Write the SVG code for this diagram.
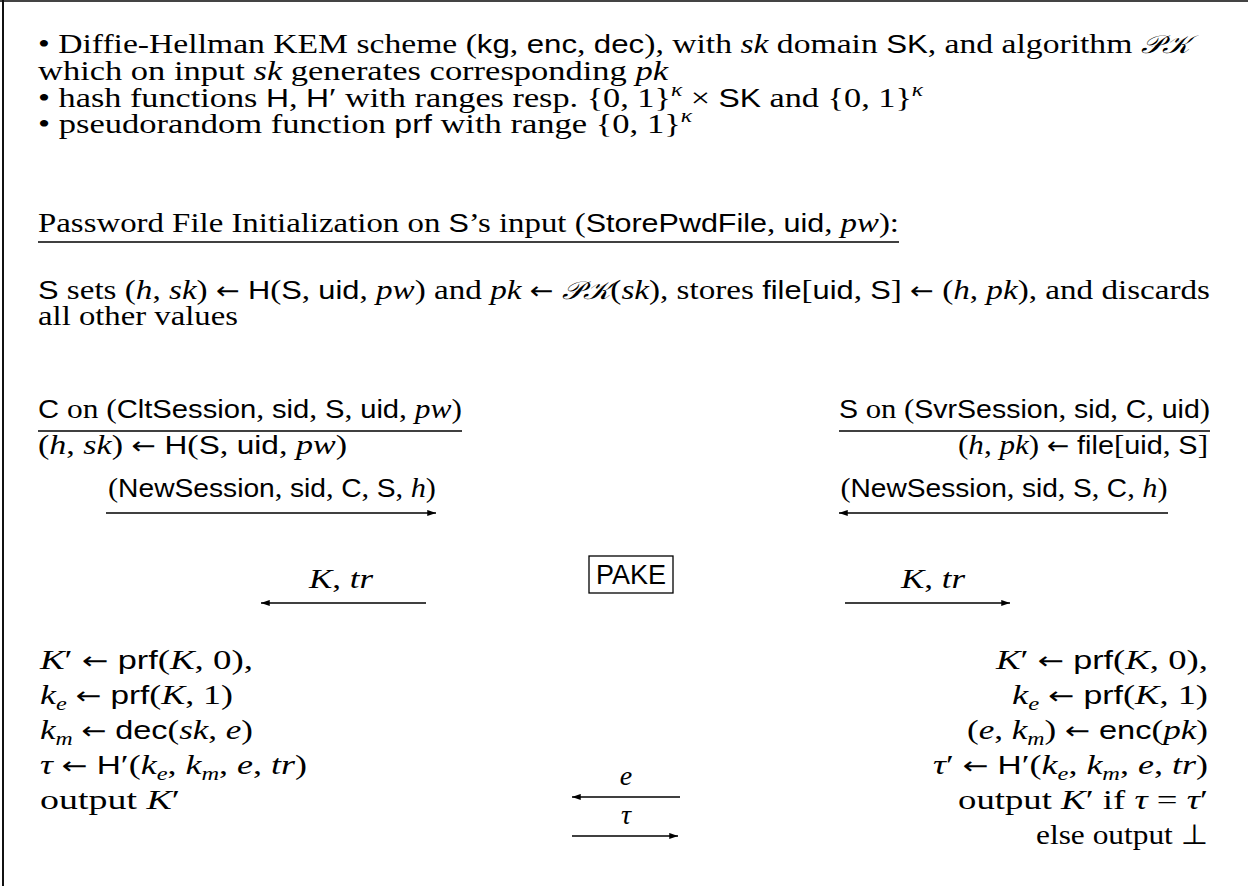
<svg xmlns="http://www.w3.org/2000/svg" width="1248" height="886" viewBox="0 0 1248 886">
<style>
.r{font-family:"Liberation Serif","DejaVu Serif",serif;font-size:28px;fill:#000}
.s{font-family:"Liberation Sans","DejaVu Sans",sans-serif;font-size:26px}
.a{font-family:"DejaVu Sans","Liberation Serif",sans-serif;font-size:24px}
.i{font-style:italic}
.c{font-family:"DejaVu Serif","DejaVu Sans","Noto Sans",serif;font-style:italic;font-size:25px}
.sub{font-size:19px}
.sup{font-size:19px}
.ln{stroke:#000;stroke-width:1.3;fill:none}
.ar{stroke:#000;stroke-width:1.3;fill:none;marker-end:url(#ah)}
.end{text-anchor:end}
.mid{text-anchor:middle}
</style>
<defs>
<marker id="ah" viewBox="0 0 10 8" refX="10" refY="4" markerWidth="10" markerHeight="7" markerUnits="userSpaceOnUse" orient="auto"><path d="M0,0.5 L10,4 L0,7.5 z" fill="#000"/></marker>
</defs>
<rect width="1248" height="886" fill="#fff"/>
<g id="frame">
<line x1="0" y1="1" x2="1248" y2="1" stroke="#444" stroke-width="2"/>
<line x1="3" y1="0" x2="3" y2="886" stroke="#111" stroke-width="2"/>
</g>
<g id="assumptions">
<text class="r" x="38" y="53" textLength="1152" lengthAdjust="spacingAndGlyphs">• Diffie-Hellman KEM scheme (<tspan class="s">kg</tspan>, <tspan class="s">enc</tspan>, <tspan class="s">dec</tspan>), with <tspan class="i">sk</tspan> domain <tspan class="s">SK</tspan>, and algorithm <tspan class="c">𝒫𝒦</tspan></text>
<text class="r" x="38" y="80" textLength="630" lengthAdjust="spacingAndGlyphs">which on input <tspan class="i">sk</tspan> generates corresponding <tspan class="i">pk</tspan></text>
<text class="r" x="38" y="107" textLength="885" lengthAdjust="spacingAndGlyphs">• hash functions <tspan class="s">H</tspan>, <tspan class="s">H</tspan>′ with ranges resp. {0, 1}<tspan class="i sup" dy="-11">κ</tspan><tspan dy="11"> × </tspan><tspan class="s">SK</tspan> and {0, 1}<tspan class="i sup" dy="-11">κ</tspan></text>
<text class="r" x="38" y="133" textLength="654" lengthAdjust="spacingAndGlyphs">• pseudorandom function <tspan class="s">prf</tspan> with range {0, 1}<tspan class="i sup" dy="-11">κ</tspan></text>
</g>
<g id="pwfile-init">
<text class="r" x="38" y="232" textLength="861" lengthAdjust="spacingAndGlyphs">Password File Initialization on <tspan class="s">S</tspan>’s input (<tspan class="s">StorePwdFile</tspan>, <tspan class="s">uid</tspan>, <tspan class="i">pw</tspan>):</text>
<line class="ln" x1="38" y1="242" x2="899" y2="242"/>
<text class="r" x="38" y="299" textLength="1172" lengthAdjust="spacingAndGlyphs"><tspan class="s">S</tspan> sets (<tspan class="i">h</tspan>, <tspan class="i">sk</tspan>) <tspan class="a">←</tspan> <tspan class="s">H</tspan>(<tspan class="s">S</tspan>, <tspan class="s">uid</tspan>, <tspan class="i">pw</tspan>) and <tspan class="i">pk</tspan> <tspan class="a">←</tspan> <tspan class="c">𝒫𝒦</tspan>(<tspan class="i">sk</tspan>), stores <tspan class="s">file</tspan>[<tspan class="s">uid</tspan>, <tspan class="s">S</tspan>] <tspan class="a">←</tspan> (<tspan class="i">h</tspan>, <tspan class="i">pk</tspan>), and discards</text>
<text class="r" x="38" y="325" textLength="200" lengthAdjust="spacingAndGlyphs">all other values</text>
</g>
<g id="client-header">
<text class="r" x="38" y="418" textLength="424" lengthAdjust="spacingAndGlyphs"><tspan class="s">C</tspan> on (<tspan class="s">CltSession</tspan>, <tspan class="s">sid</tspan>, <tspan class="s">S</tspan>, <tspan class="s">uid</tspan>, <tspan class="i">pw</tspan>)</text>
<line class="ln" x1="38" y1="431" x2="462" y2="431"/>
<text class="r" x="38" y="454" textLength="309" lengthAdjust="spacingAndGlyphs">(<tspan class="i">h</tspan>, <tspan class="i">sk</tspan>) <tspan class="a">←</tspan> <tspan class="s">H</tspan>(<tspan class="s">S</tspan>, <tspan class="s">uid</tspan>, <tspan class="i">pw</tspan>)</text>
</g>
<g id="server-header">
<text class="r end" x="1210" y="418" textLength="371" lengthAdjust="spacingAndGlyphs"><tspan class="s">S</tspan> on (<tspan class="s">SvrSession</tspan>, <tspan class="s">sid</tspan>, <tspan class="s">C</tspan>, <tspan class="s">uid</tspan>)</text>
<line class="ln" x1="839" y1="431" x2="1210" y2="431"/>
<text class="r end" x="1208" y="454" textLength="250" lengthAdjust="spacingAndGlyphs">(<tspan class="i">h</tspan>, <tspan class="i">pk</tspan>) <tspan class="a">←</tspan> <tspan class="s">file</tspan>[<tspan class="s">uid</tspan>, <tspan class="s">S</tspan>]</text>
</g>
<g id="pake">
<rect x="589" y="556" width="84" height="37" fill="none" stroke="#000" stroke-width="1.3"/>
<text class="s mid" x="631" y="584" style="font-size:27px">PAKE</text>
</g>
<g id="client-compute">
<text class="r" x="40" y="669" textLength="213" lengthAdjust="spacingAndGlyphs"><tspan class="i">K</tspan>′ <tspan class="a">←</tspan> <tspan class="s">prf</tspan>(<tspan class="i">K</tspan>, 0),</text>
<text class="r" x="40" y="704" textLength="193" lengthAdjust="spacingAndGlyphs"><tspan class="i">k</tspan><tspan class="i sub" dy="6">e</tspan><tspan dy="-6"> </tspan><tspan class="a">←</tspan> <tspan class="s">prf</tspan>(<tspan class="i">K</tspan>, 1)</text>
<text class="r" x="40" y="739" textLength="213" lengthAdjust="spacingAndGlyphs"><tspan class="i">k</tspan><tspan class="i sub" dy="6">m</tspan><tspan dy="-6"> </tspan><tspan class="a">←</tspan> <tspan class="s">dec</tspan>(<tspan class="i">sk</tspan>, <tspan class="i">e</tspan>)</text>
<text class="r" x="40" y="774" textLength="267" lengthAdjust="spacingAndGlyphs"><tspan class="i">τ</tspan> <tspan class="a">←</tspan> <tspan class="s">H</tspan>′(<tspan class="i">k</tspan><tspan class="i sub" dy="6">e</tspan><tspan dy="-6">, </tspan><tspan class="i">k</tspan><tspan class="i sub" dy="6">m</tspan><tspan dy="-6">, </tspan><tspan class="i">e</tspan>, <tspan class="i">tr</tspan>)</text>
<text class="r" x="40" y="809" textLength="140" lengthAdjust="spacingAndGlyphs">output <tspan class="i">K</tspan>′</text>
</g>
<g id="server-compute">
<text class="r end" x="1208" y="669" textLength="212" lengthAdjust="spacingAndGlyphs"><tspan class="i">K</tspan>′ <tspan class="a">←</tspan> <tspan class="s">prf</tspan>(<tspan class="i">K</tspan>, 0),</text>
<text class="r end" x="1208" y="704" textLength="196" lengthAdjust="spacingAndGlyphs"><tspan class="i">k</tspan><tspan class="i sub" dy="6">e</tspan><tspan dy="-6"> </tspan><tspan class="a">←</tspan> <tspan class="s">prf</tspan>(<tspan class="i">K</tspan>, 1)</text>
<text class="r end" x="1208" y="739" textLength="241" lengthAdjust="spacingAndGlyphs">(<tspan class="i">e</tspan>, <tspan class="i">k</tspan><tspan class="i sub" dy="6">m</tspan><tspan dy="-6">) </tspan><tspan class="a">←</tspan> <tspan class="s">enc</tspan>(<tspan class="i">pk</tspan>)</text>
<text class="r end" x="1208" y="774" textLength="275" lengthAdjust="spacingAndGlyphs"><tspan class="i">τ</tspan>′ <tspan class="a">←</tspan> <tspan class="s">H</tspan>′(<tspan class="i">k</tspan><tspan class="i sub" dy="6">e</tspan><tspan dy="-6">, </tspan><tspan class="i">k</tspan><tspan class="i sub" dy="6">m</tspan><tspan dy="-6">, </tspan><tspan class="i">e</tspan>, <tspan class="i">tr</tspan>)</text>
<text class="r end" x="1208" y="809" textLength="250" lengthAdjust="spacingAndGlyphs">output <tspan class="i">K</tspan>′ if <tspan class="i">τ</tspan> = <tspan class="i">τ</tspan>′</text>
<text class="r end" x="1208" y="844" textLength="172" lengthAdjust="spacingAndGlyphs">else output <tspan class="a" style="font-size:28px">⊥</tspan></text>
</g>
<g id="connectors">
<text class="r mid" x="272" y="497" textLength="328" lengthAdjust="spacingAndGlyphs">(<tspan class="s">NewSession</tspan>, <tspan class="s">sid</tspan>, <tspan class="s">C</tspan>, <tspan class="s">S</tspan>, <tspan class="i">h</tspan>)</text>
<line class="ar" x1="106" y1="513" x2="436" y2="513"/>
<text class="r mid" x="1004" y="497" textLength="327" lengthAdjust="spacingAndGlyphs">(<tspan class="s">NewSession</tspan>, <tspan class="s">sid</tspan>, <tspan class="s">S</tspan>, <tspan class="s">C</tspan>, <tspan class="i">h</tspan>)</text>
<line class="ar" x1="1168" y1="513" x2="839" y2="513"/>
<text class="r mid" x="341" y="588" textLength="64" lengthAdjust="spacingAndGlyphs"><tspan class="i">K</tspan>, <tspan class="i">tr</tspan></text>
<line class="ar" x1="426" y1="603" x2="261" y2="603"/>
<text class="r mid" x="933" y="588" textLength="64" lengthAdjust="spacingAndGlyphs"><tspan class="i">K</tspan>, <tspan class="i">tr</tspan></text>
<line class="ar" x1="845" y1="603" x2="1010" y2="603"/>
<text class="r i mid" x="626" y="785">e</text>
<line class="ar" x1="680" y1="797" x2="572" y2="797"/>
<text class="r i mid" x="626" y="824">τ</text>
<line class="ar" x1="572" y1="836" x2="678" y2="836"/>
</g>
</svg>
